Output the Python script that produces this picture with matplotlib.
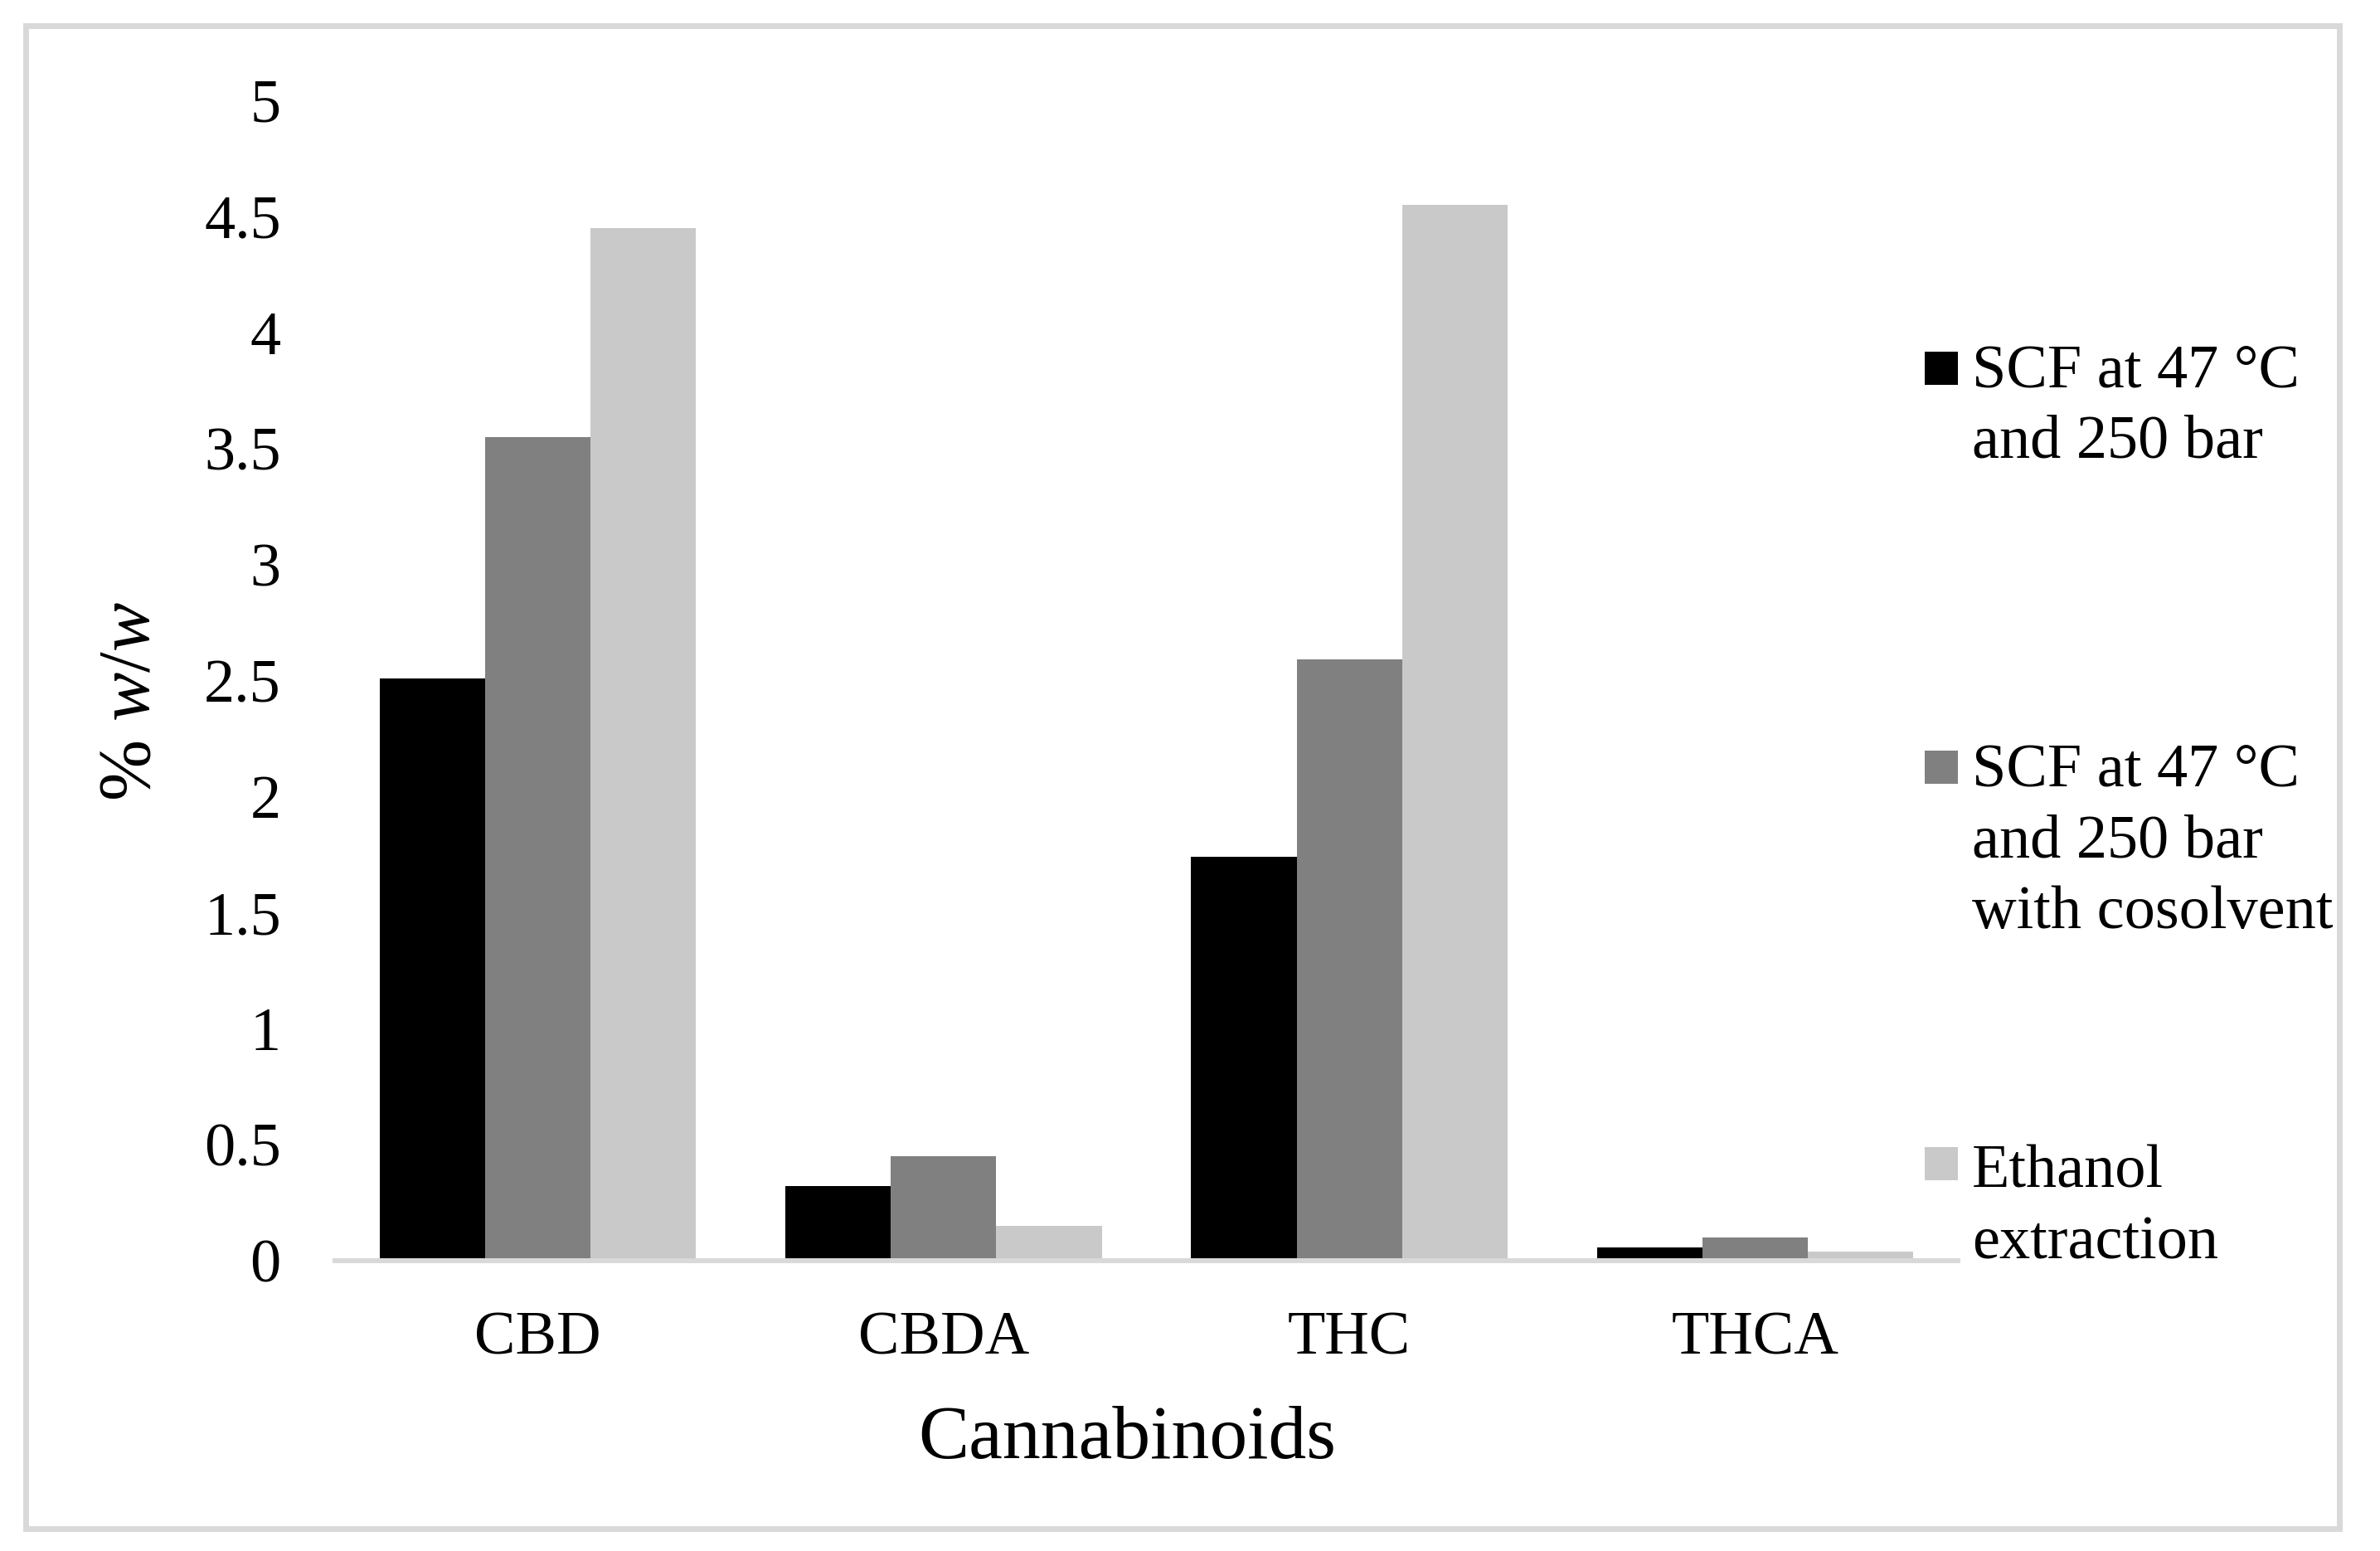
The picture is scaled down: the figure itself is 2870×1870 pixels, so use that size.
import matplotlib
matplotlib.use("Agg")
import matplotlib.pyplot as plt
from matplotlib.patches import Rectangle
import numpy as np

# ---- data ----
categories = ["CBD", "CBDA", "THC", "THCA"]
series_names = [
    ["SCF at 47 °C", "and 250 bar"],
    ["SCF at 47 °C", "and 250 bar", "with cosolvent"],
    ["Ethanol", "extraction"],
]
scf = [2.51, 0.32, 1.74, 0.057]
scf_cosolvent = [3.55, 0.45, 2.59, 0.10]
ethanol = [4.45, 0.15, 4.55, 0.04]
yticks = [0, 0.5, 1, 1.5, 2, 2.5, 3, 3.5, 4, 4.5, 5]
ytick_labels = ["0", "0.5", "1", "1.5", "2", "2.5", "3", "3.5", "4", "4.5", "5"]

colors = ["#000000", "#808080", "#c9c9c9"]
values = [scf, scf_cosolvent, ethanol]

plt.rcParams["font.family"] = ["Liberation Serif", "DejaVu Serif"]
plt.rcParams["mathtext.fontset"] = "custom"
plt.rcParams["mathtext.rm"] = "Liberation Serif"
plt.rcParams["mathtext.it"] = "Liberation Serif:italic"

W, H = 2870, 1870
fig = plt.figure(figsize=(W / 100, H / 100), dpi=100)
FS = 53.5

# outer frame
fig.add_artist(Rectangle((30.5 / W, 1 - 1843 / H), (2821 - 30.5) / W, (1843 - 31) / H,
                         transform=fig.transFigure, fill=False,
                         edgecolor="#d9d9d9", linewidth=5.0))

ax = fig.add_axes([404 / W, 1 - 1520 / H, (2361 - 404) / W, (1520 - 121) / H])
ax.set_xlim(-0.5, 3.5)
ax.set_ylim(0, 5)

x = np.arange(len(categories))
bw = 0.26
for i, (vals, c) in enumerate(zip(values, colors)):
    ax.bar(x + (i - 1) * bw, vals, width=bw, color=c, linewidth=0, zorder=2)

ax.axhline(0, color="#d9d9d9", linewidth=4.3, zorder=3, clip_on=False)

for s in ax.spines.values():
    s.set_visible(False)
ax.set_yticks(yticks)
ax.set_yticklabels(ytick_labels)
ax.set_xticks(x)
ax.set_xticklabels(categories)
ax.tick_params(axis="y", length=0, pad=47, labelsize=FS)
ax.tick_params(axis="x", length=0, pad=44, labelsize=FS)

# axis titles
fig.text(158 / W, 1 - 846 / H, r"% $w/w$", rotation=90, ha="center", va="center",
         fontsize=64)
fig.text(1359 / W, 1 - 1758 / H, "Cannabinoids", ha="center", va="baseline",
         fontsize=66)

# legend
sq_tops = [424, 905, 1383]
first_baselines = [466, 947, 1432]
line_step = 86
for lines, c, top, base in zip(series_names, colors, sq_tops, first_baselines):
    fig.add_artist(Rectangle((2321 / W, 1 - (top + 40) / H), 40 / W, 40 / H,
                             transform=fig.transFigure, facecolor=c, edgecolor="none"))
    for k, ln in enumerate(lines):
        fig.text(2378 / W, 1 - (base + k * line_step) / H, ln, ha="left",
                 va="baseline", fontsize=FS)

fig.savefig("out.png", dpi=100)
